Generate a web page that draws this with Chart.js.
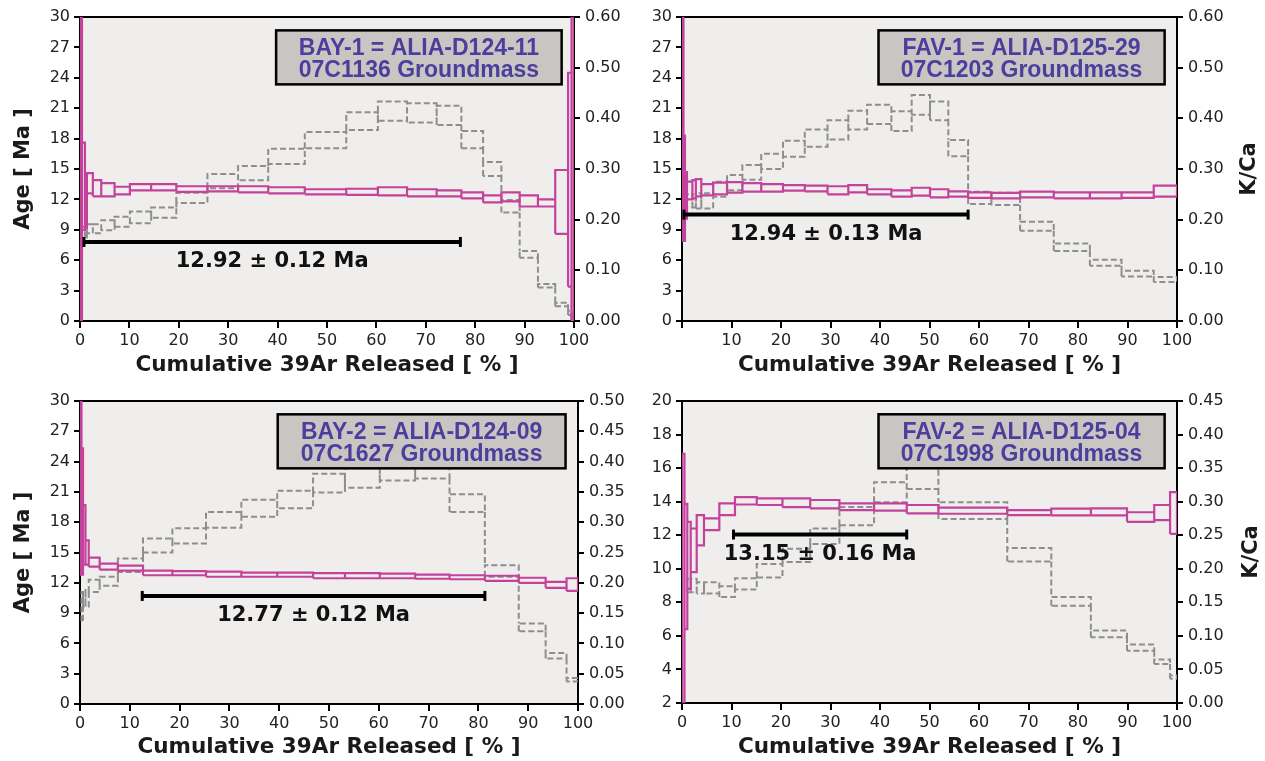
<!DOCTYPE html>
<html><head><meta charset="utf-8">
<script src="https://cdn.jsdelivr.net/npm/chart.js@4.4.1/dist/chart.umd.min.js"></script>
<style>
html,body{margin:0;padding:0;background:#fff;}
body{width:1265px;height:761px;position:relative;overflow:hidden;}
canvas{position:absolute;}
</style></head><body>
<canvas id="c1" width="632" height="381" style="left:0;top:0"></canvas>
<canvas id="c2" width="633" height="381" style="left:632px;top:0"></canvas>
<canvas id="c3" width="632" height="380" style="left:0;top:381px"></canvas>
<canvas id="c4" width="633" height="380" style="left:632px;top:381px"></canvas>
<script>
// ---- BAY-1 (07C1136) ----
const bay1Cum   = [0, 0.4, 1.0, 1.4, 2.6, 4.3, 7.0, 10.1, 14.4, 19.5, 25.8, 32.0, 38.1, 45.5, 53.9, 60.3, 66.2, 72.2, 77.2, 81.6, 85.3, 89.0, 92.7, 96.2, 98.8, 99.5, 100];
const bay1AgeLo = [-5, 9.0, 9.2, 12.6, 12.3, 12.3, 12.5, 12.9, 12.9, 12.75, 12.8, 12.7, 12.6, 12.5, 12.45, 12.4, 12.3, 12.3, 12.1, 11.7, 11.8, 11.3, 11.3, 8.6, 3.4, -5];
const bay1AgeHi = [40, 17.6, 13.8, 14.6, 13.9, 13.6, 13.25, 13.5, 13.5, 13.3, 13.3, 13.3, 13.2, 13.0, 13.05, 13.2, 13.0, 12.9, 12.7, 12.4, 12.7, 12.4, 12.0, 14.9, 24.5, 40];
const bay1KcaLo = [null, 0.165, 0.165, 0.173, 0.173, 0.179, 0.186, 0.193, 0.204, 0.233, 0.262, 0.278, 0.310, 0.341, 0.377, 0.395, 0.392, 0.387, 0.341, 0.286, 0.214, 0.125, 0.066, 0.029, 0.012, 0.002];
const bay1KcaHi = [null, 0.186, 0.186, 0.191, 0.191, 0.199, 0.206, 0.216, 0.224, 0.253, 0.290, 0.306, 0.340, 0.373, 0.412, 0.433, 0.430, 0.425, 0.375, 0.314, 0.239, 0.138, 0.073, 0.036, 0.020, 0.008];

// ---- FAV-1 (07C1203) ----
const fav1Cum   = [0, 0.3, 0.6, 1.0, 2.1, 2.8, 3.9, 6.3, 9.1, 12.2, 16.0, 20.4, 24.8, 29.4, 33.6, 37.4, 42.3, 46.4, 50.1, 53.8, 57.8, 62.5, 68.3, 75.1, 82.4, 88.8, 95.3, 100];
const fav1AgeLo = [7.9, 7.9, 10.1, 12.0, 12.1, 12.3, 12.4, 12.5, 12.66, 12.76, 12.76, 12.86, 12.8, 12.5, 12.7, 12.5, 12.27, 12.37, 12.2, 12.27, 12.15, 12.1, 12.2, 12.1, 12.1, 12.15, 12.27];
const fav1AgeHi = [40, 18.3, 14.7, 13.75, 13.9, 14.0, 13.5, 13.65, 13.7, 13.6, 13.5, 13.4, 13.35, 13.3, 13.4, 13.0, 12.9, 13.15, 13.0, 12.8, 12.7, 12.65, 12.76, 12.7, 12.7, 12.7, 13.35];
const fav1KcaLo = [null, null, 0.215, 0.224, 0.224, 0.222, 0.222, 0.245, 0.258, 0.279, 0.300, 0.324, 0.344, 0.358, 0.378, 0.389, 0.375, 0.407, 0.396, 0.325, 0.231, 0.229, 0.178, 0.138, 0.109, 0.088, 0.077];
const fav1KcaHi = [null, null, 0.235, 0.250, 0.250, 0.252, 0.252, 0.275, 0.288, 0.308, 0.330, 0.356, 0.378, 0.396, 0.415, 0.427, 0.414, 0.446, 0.433, 0.357, 0.255, 0.253, 0.196, 0.153, 0.121, 0.099, 0.087];

// ---- BAY-2 (07C1627) ----
const bay2Cum   = [0, 0.3, 0.6, 1.1, 1.75, 3.95, 7.6, 12.65, 18.55, 25.3, 32.4, 39.6, 46.8, 53.2, 60.2, 67.3, 74.2, 81.3, 88.1, 93.5, 97.7, 100];
const bay2AgeLo = [12.8, 12.8, 13.8, 13.8, 13.6, 13.3, 13.2, 12.75, 12.75, 12.6, 12.6, 12.6, 12.45, 12.45, 12.45, 12.4, 12.35, 12.2, 12.0, 11.5, 11.2];
const bay2AgeHi = [40, 25.3, 19.7, 16.2, 14.5, 13.9, 13.7, 13.2, 13.15, 13.1, 13.0, 13.0, 12.95, 12.95, 12.9, 12.8, 12.75, 12.7, 12.5, 12.1, 12.45];
const bay2KcaLo = [null, 0.136, 0.161, 0.161, 0.185, 0.195, 0.218, 0.250, 0.265, 0.291, 0.309, 0.323, 0.349, 0.357, 0.369, 0.372, 0.317, 0.210, 0.120, 0.075, 0.037];
const bay2KcaHi = [null, 0.185, 0.188, 0.185, 0.205, 0.210, 0.240, 0.273, 0.290, 0.317, 0.337, 0.352, 0.380, 0.389, 0.402, 0.400, 0.346, 0.229, 0.133, 0.084, 0.043];

// ---- FAV-2 (07C1998) ----
const fav2Cum   = [0, 0.5, 1.07, 1.76, 2.97, 4.44, 7.54, 10.7, 15.1, 20.3, 25.9, 31.8, 38.8, 45.4, 51.8, 65.7, 74.6, 82.6, 89.9, 95.4, 98.6, 100];
const fav2AgeLo = [0, 6.4, 8.8, 9.8, 11.4, 12.3, 13.2, 13.83, 13.8, 13.67, 13.6, 13.5, 13.47, 13.3, 13.28, 13.2, 13.18, 13.18, 12.8, 12.9, 12.08];
const fav2AgeHi = [16.85, 13.87, 12.8, 12.4, 13.2, 13.0, 13.9, 14.27, 14.2, 14.2, 14.1, 13.9, 13.9, 13.8, 13.65, 13.5, 13.58, 13.6, 13.37, 13.8, 14.57];
const fav2KcaLo = [null, null, 0.165, 0.165, 0.163, 0.163, 0.158, 0.169, 0.187, 0.210, 0.237, 0.265, 0.299, 0.319, 0.274, 0.211, 0.145, 0.098, 0.078, 0.058, 0.036];
const fav2KcaHi = [null, null, 0.185, 0.185, 0.180, 0.180, 0.174, 0.186, 0.207, 0.230, 0.260, 0.292, 0.329, 0.350, 0.299, 0.231, 0.158, 0.108, 0.087, 0.065, 0.041];

// ---- plateau ages ----
const plateauFrom = [0.8, 0.4, 12.5, 10.4];
const plateauTo   = [77.0, 57.8, 81.3, 45.4];
const plateauAge  = [7.8, 10.5, 10.7, 12.04];
const plateauText = ['12.92 \u00b1 0.12 Ma', '12.94 \u00b1 0.13 Ma', '12.77 \u00b1 0.12 Ma', '13.15 \u00b1 0.16 Ma'];

// ---- sample labels ----
const sampleName = ['BAY-1 = ALIA-D124-11', 'FAV-1 = ALIA-D125-29', 'BAY-2 = ALIA-D124-09', 'FAV-2 = ALIA-D125-04'];
const sampleLab  = ['07C1136 Groundmass', '07C1203 Groundmass', '07C1627 Groundmass', '07C1998 Groundmass'];

// ---- axis ranges / ticks ----
const ageMin  = [0, 0, 0, 2];
const ageMax  = [30, 30, 30, 20];
const ageStep = [3, 3, 3, 2];
const kcaMax  = [0.60, 0.60, 0.50, 0.45];
const kcaStep = [0.10, 0.10, 0.05, 0.05];
const xTicksStep = 10;

const MAG = '#c4429c', GRAY = '#8e8e8e', BG = '#efeeec';

function stepPath(cum, lo, hi) {
  const pts = [];
  for (let i = 0; i < lo.length; i++) {
    if (lo[i] == null || hi[i] == null) continue;
    const x0 = cum[i], x1 = cum[i + 1];
    pts.push({x: x0, y: lo[i]}, {x: x0, y: hi[i]}, {x: x1, y: hi[i]}, {x: x1, y: lo[i]}, {x: x0, y: lo[i]}, {x: x1, y: null});
    // vertical connector to the next step when the two boxes do not overlap
    if (i + 1 < lo.length && lo[i + 1] != null && hi[i + 1] != null) {
      if (hi[i + 1] < lo[i]) pts.push({x: x1, y: lo[i]}, {x: x1, y: hi[i + 1]}, {x: x1, y: null});
      else if (lo[i + 1] > hi[i]) pts.push({x: x1, y: hi[i]}, {x: x1, y: lo[i + 1]}, {x: x1, y: null});
    }
  }
  return pts;
}

const decor = {
  id: 'decor',
  beforeDraw(chart) {
    const a = chart.chartArea, c = chart.ctx;
    c.save(); c.fillStyle = BG; c.fillRect(a.left, a.top, a.right - a.left, a.bottom - a.top); c.restore();
  },
  beforeDatasetsDraw(chart) {
    const a = chart.chartArea, c = chart.ctx;
    c.save(); c.strokeStyle = '#000'; c.lineWidth = 2;
    c.beginPath(); c.moveTo(a.left, a.top); c.lineTo(a.right, a.top); c.stroke(); c.restore();
  },
  afterDraw(chart, args, o) {
    const a = chart.chartArea, c = chart.ctx, i = o.idx;
    const w = a.right - a.left, h = a.bottom - a.top;
    c.save();
    // plateau label
    const px = chart.scales.x.getPixelForValue((plateauFrom[i] + plateauTo[i]) / 2);
    const py = chart.scales.y.getPixelForValue(plateauAge[i]) + 25;
    c.font = 'bold 21px "DejaVu Sans"'; c.fillStyle = '#111'; c.textAlign = 'center'; c.textBaseline = 'alphabetic';
    c.fillText(plateauText[i], px, py);
    // sample box
    const bx = a.left + 0.397 * w, bw = 0.578 * w, by = a.top + 0.044 * h, bh = 54;
    c.fillStyle = '#c9c5c2'; c.fillRect(bx, by, bw, bh);
    c.strokeStyle = '#000'; c.lineWidth = 2.5; c.strokeRect(bx, by, bw, bh);
    c.fillStyle = '#4b3f9e'; c.font = 'bold 23px "Liberation Sans"';
    c.fillText(sampleName[i], bx + bw / 2, by + 24.5);
    c.fillText(sampleLab[i], bx + bw / 2, by + 46.5);
    // right title
    if (o.kcaTitle) {
      c.translate(a.right + o.kcaOff, (a.top + a.bottom) / 2);
      c.rotate(-Math.PI / 2);
      c.font = 'bold 21px "DejaVu Sans"'; c.fillStyle = '#1a1a1a'; c.textBaseline = 'middle';
      c.fillText('K/Ca', 0, 0);
    }
    c.restore();
  }
};

const panels = [
  {cv: 'c1', cum: bay1Cum, aLo: bay1AgeLo, aHi: bay1AgeHi, kLo: bay1KcaLo, kHi: bay1KcaHi, yW: 80, y1W: 58, top: 17, xH: 60, xPad: 2.6, age: true, kca: false, hide0: false, kOff: 73},
  {cv: 'c2', cum: fav1Cum, aLo: fav1AgeLo, aHi: fav1AgeHi, kLo: fav1KcaLo, kHi: fav1KcaHi, yW: 50, y1W: 88, top: 17, xH: 60, xPad: 2.6, age: false, kca: true, hide0: true, kOff: 73},
  {cv: 'c3', cum: bay2Cum, aLo: bay2AgeLo, aHi: bay2AgeHi, kLo: bay2KcaLo, kHi: bay2KcaHi, yW: 80, y1W: 54, top: 20, xH: 57, xPad: 0.3, age: true, kca: false, hide0: false, kOff: 73},
  {cv: 'c4', cum: fav2Cum, aLo: fav2AgeLo, aHi: fav2AgeHi, kLo: fav2KcaLo, kHi: fav2KcaHi, yW: 50, y1W: 88, top: 20, xH: 58, xPad: 0.3, age: false, kca: true, hide0: false, kOff: 75}
];

const tickFont = {family: 'DejaVu Sans', size: 16};
const gridOpt = (len) => ({drawOnChartArea: false, drawTicks: true, tickLength: len, color: '#000', lineWidth: 2});
const borderOpt = {display: true, color: '#000', width: 2};

panels.forEach((p, i) => {
  new Chart(document.getElementById(p.cv), {
    type: 'line',
    data: {datasets: [
      {data: [{x: plateauFrom[i], y: plateauAge[i]}, {x: plateauTo[i], y: plateauAge[i]}], yAxisID: 'y', order: 0,
       borderColor: '#000', borderWidth: 4, pointStyle: 'line', pointRadius: 5, pointHoverRadius: 5, pointBorderWidth: 3,
       pointBorderColor: '#000', pointRotation: 90},
      {data: stepPath(p.cum, p.aLo, p.aHi), yAxisID: 'y', order: 1, borderColor: MAG, borderWidth: 2.2, pointRadius: 0,
       spanGaps: false, tension: 0, borderJoinStyle: 'miter'},
      {data: stepPath(p.cum, p.kLo, p.kHi), yAxisID: 'y1', order: 2, borderColor: GRAY, borderWidth: 2, borderDash: [6, 3],
       pointRadius: 0, spanGaps: false, tension: 0, borderJoinStyle: 'miter'}
    ]},
    options: {
      responsive: false, animation: false, events: [],
      layout: {padding: {top: p.top, left: 0, right: 0, bottom: 0}},
      plugins: {legend: {display: false}, tooltip: {enabled: false},
        decor: {idx: i, kcaTitle: p.kca, kcaOff: p.kOff}},
      scales: {
        x: {type: 'linear', position: 'bottom', min: 0, max: 100,
          ticks: {stepSize: xTicksStep, autoSkip: false, maxRotation: 0, color: '#222', font: tickFont, padding: 3,
            callback: (v) => (p.hide0 && v === 0) ? '' : String(v)},
          grid: gridOpt(7), border: borderOpt,
          title: {display: true, text: 'Cumulative 39Ar Released [ % ]', color: '#1a1a1a',
            font: {family: 'DejaVu Sans', size: 21.5, weight: 'bold'}, padding: {top: 0, bottom: p.xPad}},
          afterFit: (s) => { s.height = p.xH; }},
        y: {type: 'linear', position: 'left', min: ageMin[i], max: ageMax[i],
          ticks: {stepSize: ageStep[i], autoSkip: false, color: '#222', font: tickFont, padding: 4},
          grid: gridOpt(6), border: borderOpt,
          title: {display: p.age, text: 'Age [ Ma ]', color: '#1a1a1a',
            font: {family: 'DejaVu Sans', size: 21, weight: 'bold'}, padding: {top: 11.4, bottom: 0}},
          afterFit: (s) => { s.width = p.yW; }},
        y1: {type: 'linear', position: 'right', min: 0, max: kcaMax[i],
          ticks: {stepSize: kcaStep[i], autoSkip: false, color: '#222', font: tickFont, padding: 5,
            callback: (v) => Number(v).toFixed(2)},
          grid: gridOpt(6), border: borderOpt,
          afterFit: (s) => { s.width = p.y1W; }}
      }
    },
    plugins: [decor]
  });
});
</script>
</body></html>
